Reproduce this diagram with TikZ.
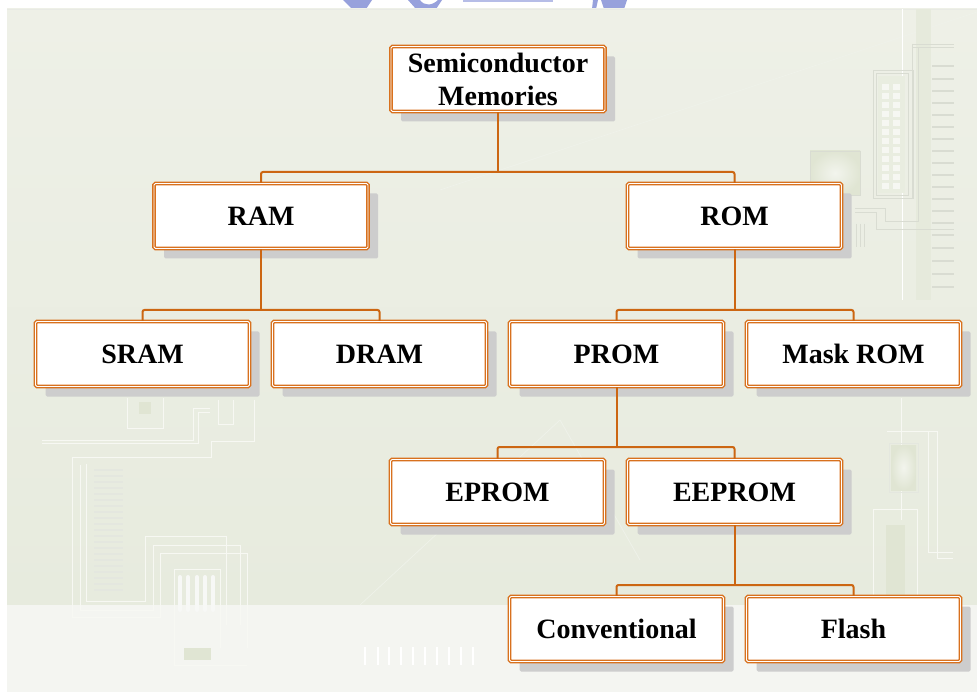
\documentclass[tikz,border=0pt]{standalone}
\usepackage{fontspec}
\setmainfont{Liberation Serif}
\usetikzlibrary{shadows}

\definecolor{paneltop}{HTML}{EEF0E7}
\definecolor{panelbot}{HTML}{E7EBDE}
\definecolor{band}{HTML}{F4F5F1}
\definecolor{trace}{HTML}{F7F8F3}
\definecolor{faint}{HTML}{D9DCD2}
\definecolor{chipfill}{HTML}{E0E5D3}
\definecolor{boxorange}{HTML}{D8711E}
\definecolor{lineorange}{HTML}{CC6612}
\definecolor{shadowgray}{HTML}{CDCDCD}
\definecolor{logoblue}{HTML}{97A1DC}

\tikzset{
  membox/.style={rectangle, minimum width=214pt, minimum height=65pt, inner sep=0pt,
    fill=white, draw=boxorange, double=white, double distance=0.9pt, line width=1.35pt,
    rounded corners=1.5pt, align=center,
    font=\fontsize{28}{33}\selectfont\bfseries,
    drop shadow={shadow xshift=10pt, shadow yshift=-10pt, fill=shadowgray, opacity=1}},
  link/.style={draw=lineorange, line width=2pt, rounded corners=2pt},
  wire/.style={draw=trace, line width=1pt},
  tick/.style={draw=faint, line width=1.2pt}
}

\begin{document}
\begin{tikzpicture}[x=1pt, y=-1pt]
\useasboundingbox (0,0) rectangle (977,692);
\fill[white] (0,0) rectangle (977,692);

% logo fragments along the top edge
\begin{scope}
  \clip (0,0) rectangle (977,9);
  \fill[logoblue] (343,0) -- (372,0) -- (366,9) -- (352,9) -- cycle;
  \fill[logoblue] (408,0) -- (420,0) .. controls (424,6) and (432,6) .. (438,0) -- (442,0) -- (436,9) -- (416,9) -- cycle;
  \fill[logoblue!70] (463,0) rectangle (553,2);
  \fill[logoblue] (593,0) -- (598,0) -- (596,9) -- (592,9) -- cycle;
  \fill[logoblue] (601,0) -- (627,0) -- (624,9) -- (604,9) -- cycle;
\end{scope}

% background panel
\shade[top color=paneltop, bottom color=panelbot] (7,9) rectangle (977,605);
\fill[band] (7,605) rectangle (977,692);
\draw[faint!60, line width=0.6pt] (7,9) -- (977,9);

% faint diagonals
\draw[white!35!panelbot, line width=0.7pt] (440,190) -- (977,12);
\draw[white!35!panelbot, line width=0.7pt] (360,605) -- (560,420);
\draw[white!35!panelbot, line width=0.7pt] (560,420) -- (640,560);

% right side circuitry
\fill[chipfill!80] (916,9) rectangle (931,300);
\draw[white, line width=0.8pt] (902,9) -- (902,300);
\foreach \yy in {66,79,91,103,115,127,139,151,163,175,187,199,211,223,235,248,261,274,287}
  \draw[tick] (932,\yy) -- (954,\yy);
\draw[faint, line width=0.8pt] (873,70) rectangle (913,198);
\draw[faint, line width=0.8pt] (876,73) rectangle (908,195);
\fill[chipfill!70] (878,76) rectangle (905,193);
\foreach \yy in {84,93,102,111,120,129,138,147,156,165,174,183}
  \foreach \xx in {882,893}
    \fill[white!70!chipfill] (\xx,\yy) rectangle ++(7,6);
\draw[faint, line width=0.8pt] (912,44) -- (954,44) (912,47) -- (954,47) (912,44) -- (912,198);
\draw[faint, line width=0.8pt] (855,208) -- (885,208) -- (885,221) -- (918,221) -- (918,47);
\draw[faint, line width=0.8pt] (855,212) -- (876,212) -- (876,229) -- (954,229);
\shade[inner color=white!60!chipfill, outer color=chipfill] (810,151) rectangle (860,195);
\draw[faint, line width=0.6pt] (810,151) rectangle (860,195);
\draw[faint, line width=0.6pt] (856,224) -- (856,247) (860,224) -- (860,247) (864,224) -- (864,247);

% right side, lower
\draw[wire] (901,398) -- (901,520);
\draw[wire] (887,431) -- (937,431) -- (937,558) -- (953,558);
\draw[wire] (928,431) -- (928,552) -- (953,552);
\shade[inner color=white!60!chipfill, outer color=chipfill] (891,445) rectangle (916,490);
\draw[faint!70, line width=0.6pt] (889,443) rectangle (918,492);
\draw[wire] (873,509) -- (917,509) -- (917,600);
\draw[wire] (873,509) -- (873,600);
\fill[chipfill] (886,525) rectangle (905,600);

% left side, lower
\draw[wire] (42,440) -- (193,440) -- (193,408) -- (210,408);
\draw[wire] (42,443) -- (198,443) -- (198,412) -- (210,412);
\draw[wire] (72,457) -- (211,457) -- (211,441) -- (254,441) -- (254,400);
\draw[wire] (72,457) -- (72,617) -- (160,617) -- (160,553) -- (247,553) -- (247,648);
\draw[wire] (80,465) -- (80,610) -- (153,610) -- (153,545) -- (240,545) -- (240,625);
\draw[wire] (86,464) -- (86,601) -- (145,601) -- (145,536) -- (226,536) -- (226,625);
\draw[wire] (127,398) -- (127,428) -- (163,428) -- (163,398);
\draw[wire] (218,400) -- (218,424) -- (233,424) -- (233,400);
\draw[wire] (174,569) -- (174,665) -- (247,665);
\draw[wire] (174,569) -- (220,569) -- (220,648);
\fill[chipfill] (139,402) rectangle (151,414);
\foreach \yy in {470,476,...,590}
  \draw[faint!70, line width=1.6pt] (94,\yy) -- (123,\yy);
\foreach \xx in {180,188,197,205,213}
  \draw[white!80!faint, line width=4pt, line cap=round] (\xx,577) -- (\xx,610);
\fill[chipfill] (184,648) rectangle (211,660);
\foreach \xx in {365,378,389,401,413,425,437,449,461,473}
  \draw[white, line width=2pt] (\xx,647) -- (\xx,665);

% memory hierarchy
\node[membox] (semi)  at (498,79)    {Semiconductor\\Memories};
\node[membox] (ram)   at (261,216)   {RAM};
\node[membox] (rom)   at (734.5,216) {ROM};
\node[membox] (sram)  at (142.5,354) {SRAM};
\node[membox] (dram)  at (379.5,354) {DRAM};
\node[membox] (prom)  at (616.5,354) {PROM};
\node[membox] (mask)  at (853.5,354) {Mask ROM};
\node[membox] (eprom) at (497.5,492) {EPROM};
\node[membox] (eeprom) at (734.5,492) {EEPROM};
\node[membox] (conv)  at (616.5,629) {Conventional};
\node[membox] (flash) at (853.5,629) {Flash};

% bus junctions
\coordinate (j0) at (498,172);
\coordinate (j1) at (261,310);
\coordinate (j2) at (734.5,310);
\coordinate (j3) at (616.5,447);
\coordinate (j4) at (734.5,585);

\draw[link] (semi.south) -- (j0);
\draw[link] (ram.north) |- (j0) -| (rom.north);
\draw[link] (ram.south) -- (j1);
\draw[link] (sram.north) |- (j1) -| (dram.north);
\draw[link] (rom.south) -- (j2);
\draw[link] (prom.north) |- (j2) -| (mask.north);
\draw[link] (prom.south) -- (j3);
\draw[link] (eprom.north) |- (j3) -| (eeprom.north);
\draw[link] (eeprom.south) -- (j4);
\draw[link] (conv.north) |- (j4) -| (flash.north);
\end{tikzpicture}
\end{document}
